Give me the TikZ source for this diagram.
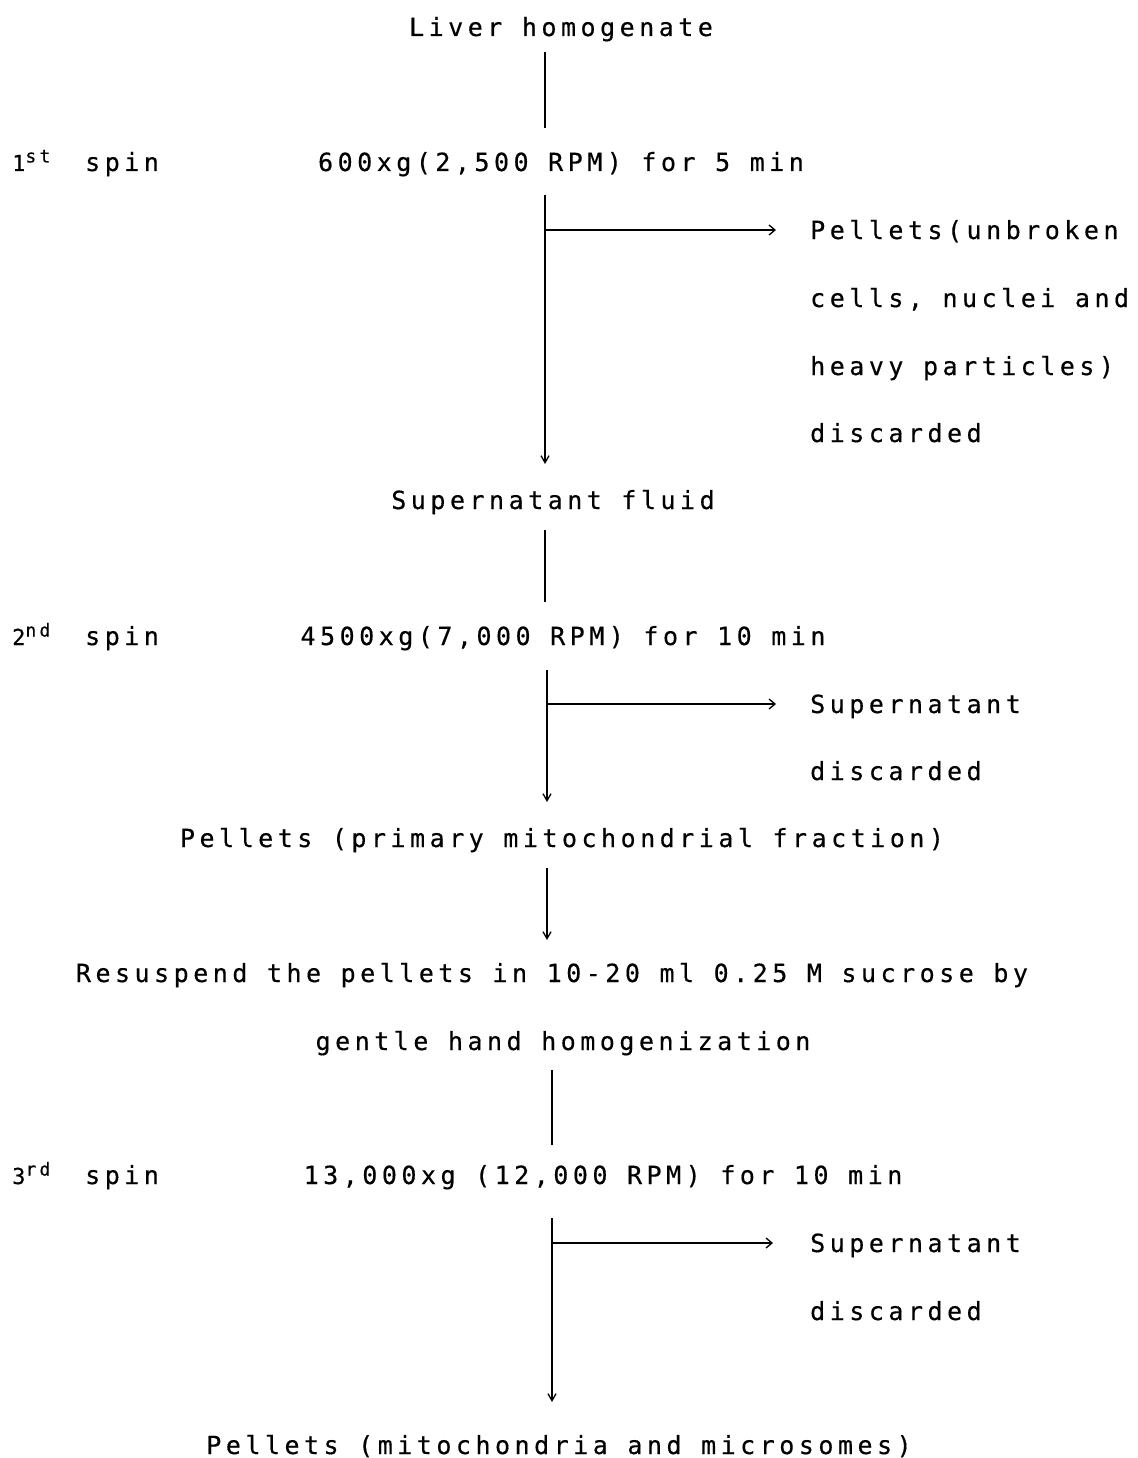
\documentclass[tikz,border=0pt]{standalone}
\usepackage{fontspec}
\usetikzlibrary{arrows.meta}
\newfontfamily\lgfont[LetterSpace=18,FakeBold=0.4]{DejaVu Sans Mono}
\newcommand{\ordnum}[2]{{\fontsize{22}{22}\selectfont #1}\raisebox{8.5pt}{\fontsize{18}{18}\selectfont #2}}
\begin{document}
\begin{tikzpicture}[x=1pt,y=-1pt,
  txt/.style={anchor=base west,inner sep=0pt,font=\lgfont\fontsize{25}{25}\selectfont},
  ctxt/.style={txt,anchor=base},
  flow/.style={line width=1.3pt},
  downarr/.style={flow,-{Straight Barb[length=7pt,width=8pt]}},
  sidearr/.style={flow,-{Straight Barb[length=6pt,width=10pt]}}]
\useasboundingbox[fill=white] (0,0) rectangle (1137,1458);

% texts
\node[ctxt] (liver) at (561,36) {Liver homogenate};
\node[txt] (s1) at (12,171) {\ordnum{1}{st}};
\node[txt] (s1b) at (85,171) {spin};
\node[ctxt] (c1) at (561,171) {600xg(2,500 RPM) for 5 min};
\node[txt] (p1a) at (810,239) {Pellets(unbroken};
\node[txt] (p1b) at (810,307) {cells, nuclei and};
\node[txt] (p1c) at (810,375) {heavy particles)};
\node[txt] (p1d) at (810,442) {discarded};
\node[ctxt] (sup) at (553,509) {Supernatant fluid};
\node[txt] (s2) at (12,645) {\ordnum{2}{nd}};
\node[txt] (s2b) at (85,645) {spin};
\node[ctxt] (c2) at (563,645) {4500xg(7,000 RPM) for 10 min};
\node[txt] (d2a) at (810,713) {Supernatant};
\node[txt] (d2b) at (810,780) {discarded};
\node[ctxt] (pm) at (562,847) {Pellets (primary mitochondrial fraction)};
\node[ctxt] (rs1) at (552,982) {Resuspend the pellets in 10-20 ml 0.25 M sucrose by};
\node[ctxt] (rs2) at (563,1050) {gentle hand homogenization};
\node[txt] (s3) at (12,1184) {\ordnum{3}{rd}};
\node[txt] (s3b) at (85,1184) {spin};
\node[ctxt] (c3) at (603,1184) {13,000xg (12,000 RPM) for 10 min};
\node[txt] (d3a) at (810,1252) {Supernatant};
\node[txt] (d3b) at (810,1320) {discarded};
\node[ctxt] (pf) at (559,1454) {Pellets (mitochondria and microsomes)};

% connector end points
\coordinate (a1) at (545,52);
\coordinate (a2) at (545,128);
\coordinate (b1) at (545,195);
\coordinate (b2) at (545,464);
\coordinate (bj) at (545,230);
\coordinate (bt) at (776,230);
\coordinate (e1) at (545,530);
\coordinate (e2) at (545,602);
\coordinate (f1) at (547,670);
\coordinate (f2) at (547,802);
\coordinate (fj) at (547,704);
\coordinate (ft) at (776,704);
\coordinate (g1) at (547,868);
\coordinate (g2) at (547,940);
\coordinate (h1) at (552,1070);
\coordinate (h2) at (552,1145);
\coordinate (k1) at (552,1218);
\coordinate (k2) at (552,1402);
\coordinate (kj) at (552,1243);
\coordinate (kt) at (773,1243);

\draw[flow] (a1) -- (a2);
\draw[downarr] (b1) -- (b2);
\draw[sidearr] (bj) -- (bt);
\draw[flow] (e1) -- (e2);
\draw[downarr] (f1) -- (f2);
\draw[sidearr] (fj) -- (ft);
\draw[downarr] (g1) -- (g2);
\draw[flow] (h1) -- (h2);
\draw[downarr] (k1) -- (k2);
\draw[sidearr] (kj) -- (kt);
\end{tikzpicture}
\end{document}
